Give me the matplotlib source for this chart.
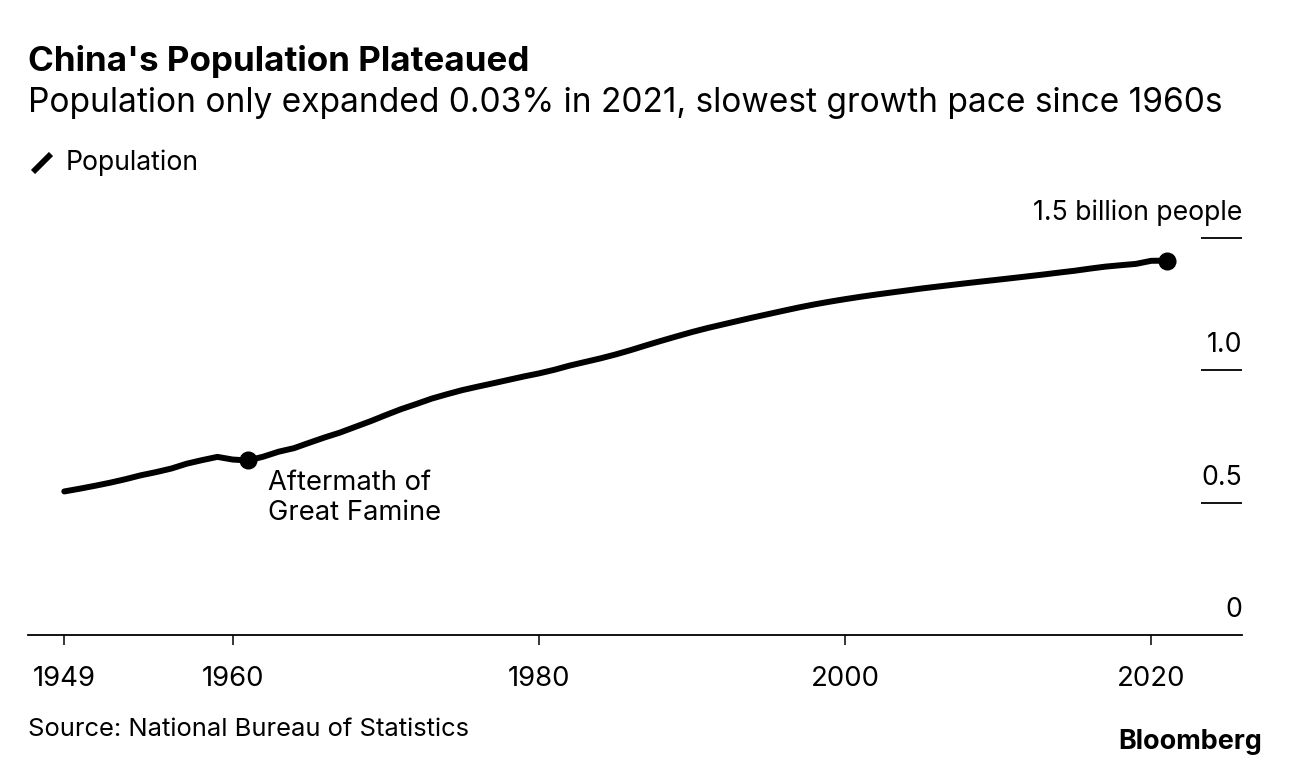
import matplotlib.pyplot as plt
from matplotlib.lines import Line2D

# China population, billions (NBS year-end figures)
anios = list(range(1949, 2022))
poblacion = [
    0.5417, 0.5520, 0.5630, 0.5748, 0.5880, 0.6027, 0.6147, 0.6283, 0.6465, 0.6599,
    0.6721, 0.6621, 0.6586, 0.6730, 0.6917, 0.7050, 0.7254, 0.7454, 0.7637, 0.7853,
    0.8067, 0.8299, 0.8523, 0.8718, 0.8921, 0.9086, 0.9242, 0.9372, 0.9497, 0.9626,
    0.9754, 0.9871, 1.0007, 1.0165, 1.0301, 1.0436, 1.0585, 1.0751, 1.0930, 1.1103,
    1.1270, 1.1433, 1.1582, 1.1717, 1.1852, 1.1985, 1.2112, 1.2239, 1.2363, 1.2476,
    1.2579, 1.2674, 1.2763, 1.2845, 1.2923, 1.2999, 1.3076, 1.3145, 1.3213, 1.3280,
    1.3345, 1.3409, 1.3474, 1.3540, 1.3607, 1.3678, 1.3746, 1.3827, 1.3901, 1.3954,
    1.4005, 1.4121, 1.4126,
]
marcas_x = [1949, 1960, 1980, 2000, 2020]
marcas_y = [0.5, 1.0, 1.5]
etiquetas_y = ["0.5", "1.0", "1.5 billion people"]
anio_hambruna = 1961

plt.rcParams['font.family'] = ['Inter', 'DejaVu Sans']

W, H = 1289, 768
fig = plt.figure(figsize=(W / 100, H / 100), dpi=100)

x0, x1 = 1946.63, 2025.92
y0, y1 = 0.0, 1.62
left_px, right_px, base_px = 28, 1242, 635
top_px = base_px - (y1 - y0) * 265
ax = fig.add_axes([left_px / W, (H - base_px) / H, (right_px - left_px) / W, (base_px - top_px) / H])
ax.set_xlim(x0, x1)
ax.set_ylim(y0, y1)

for s in ["top", "right", "left"]:
    ax.spines[s].set_visible(False)
ax.spines["bottom"].set_linewidth(1.3)
ax.set_yticks([])
ax.set_xticks(marcas_x)
ax.set_xticklabels([str(a) for a in marcas_x], fontsize=19.8)
ax.tick_params(axis="x", direction="out", length=7, width=1.1, pad=15, colors="black")

# short right-hand gridlines with labels above them
x_grid = 2023.27
ax.hlines(marcas_y, x_grid, x1, color="black", linewidth=1.3, clip_on=False)
for v, t in zip(marcas_y, etiquetas_y):
    ax.text(x1, v + 0.045, t, ha="right", va="bottom", fontsize=19.2)
ax.text(x1, 0.045, "0", ha="right", va="bottom", fontsize=19.2)

ax.plot(anios, poblacion, color="black", linewidth=4.3, solid_capstyle="round",
        solid_joinstyle="round", clip_on=False)
i_h = anios.index(anio_hambruna)
ax.plot([anios[i_h], anios[-1]], [poblacion[i_h], poblacion[-1]], "o", color="black",
        markersize=12, clip_on=False)
ax.text(anios[i_h] + 1.3, poblacion[i_h] - 0.035, "Aftermath of\nGreat Famine",
        ha="left", va="top", fontsize=19.7, linespacing=1.2)

fig.text(28 / W, 1 - 62 / H, "China's Population Plateaued", fontsize=25.2, fontweight="bold",
         ha="left", va="center")
fig.text(28 / W, 1 - 103 / H, "Population only expanded 0.03% in 2021, slowest growth pace since 1960s",
         fontsize=24.1, ha="left", va="center")
fig.add_artist(Line2D([33 / W, 51 / W], [1 - 172 / H, 1 - 154 / H], color="black",
                      linewidth=4.2, solid_capstyle="butt", transform=fig.transFigure))
fig.text(66 / W, 1 - 163 / H, "Population", fontsize=19.2, ha="left", va="center")
fig.text(28 / W, 1 - 729 / H, "Source: National Bureau of Statistics", fontsize=18.4,
         ha="left", va="center")
fig.text(1262 / W, 1 - 742 / H, "Bloomberg", fontsize=19.4, fontweight="bold",
         ha="right", va="center")

fig.savefig("out.png", dpi=100)
